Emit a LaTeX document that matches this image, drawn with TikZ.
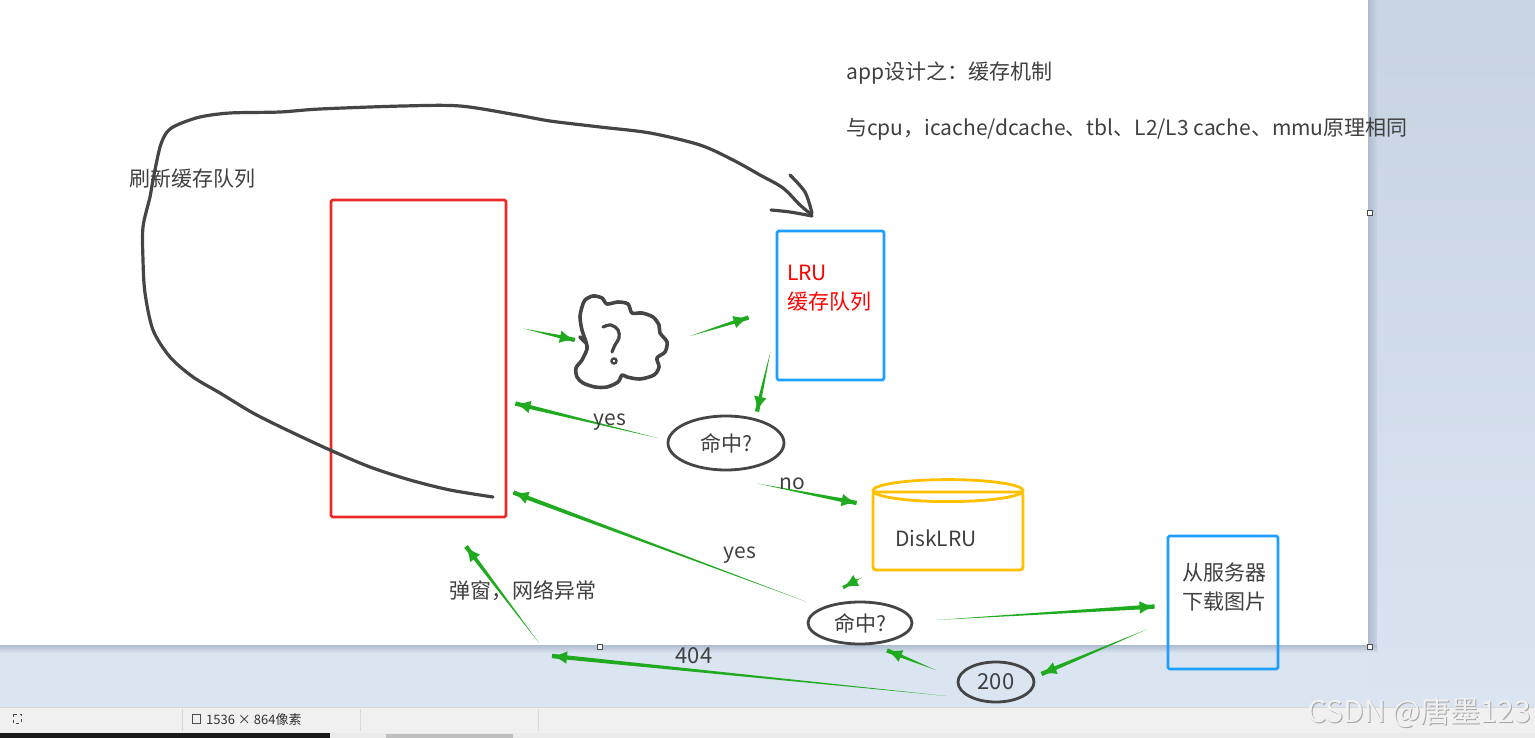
\documentclass[tikz,border=0pt]{standalone}
\usepackage{fontspec}
\setmainfont{Noto Sans CJK SC}
\usetikzlibrary{arrows.meta,calc,shapes.geometric,positioning}

\definecolor{flowgreen}{HTML}{1FAA1F}
\definecolor{cachered}{HTML}{EC2828}
\definecolor{lrublue}{HTML}{1E9FFF}
\definecolor{diskyellow}{HTML}{FFC000}
\definecolor{inkgray}{HTML}{454545}
\definecolor{textgray}{HTML}{404040}
\definecolor{paneblue}{HTML}{DBE5F1}
\definecolor{panetop}{HTML}{C8D3E3}
\definecolor{paneshadow}{HTML}{AEBCD0}
\definecolor{barface}{HTML}{F0F0F0}

\newcommand{\flowarrow}[3][2.2pt]{%
  \fill[flowgreen] (#2) -- ($(#3)!#1!90:(#2)$) -- ($(#3)!#1!-90:(#2)$) -- cycle;
  \draw[flowgreen,line width=3pt,-{Latex[length=15pt,width=13pt]}] ($(#3)!16pt!(#2)$) -- (#3);}

\begin{document}
\begin{tikzpicture}[x=1pt,y=-1pt,
  lbl/.style={text=textgray,font=\fontsize{21}{29}\selectfont,inner sep=0pt},
  ink/.style={draw=inkgray,line width=3.2pt,line cap=round,line join=round},
  box/.style={line width=2.8pt,inner sep=0pt,rounded corners=1.5pt},
  hitnode/.style={ellipse,draw=inkgray,line width=2.8pt,inner sep=0pt,text=textgray,font=\fontsize{21}{26}\selectfont},
  handle/.style={draw=black!70,fill=white,line width=0.6pt}]
\useasboundingbox (0,0) rectangle (1535,738);

% window around the canvas
\fill[paneblue] (0,0) rectangle (1535,707);
\shade[top color=panetop,bottom color=paneblue] (1368,0) rectangle (1535,707);
\shade[left color=paneshadow,right color=panetop] (1368,0) rectangle (1377,652);
\shade[top color=paneshadow,bottom color=paneblue] (0,645) rectangle (1377,653);
\fill[white] (0,0) rectangle (1368,645);
\fill[barface] (0,707) rectangle (1535,733);
\draw[black!15] (0,707.5) -- (1535,707.5);
\foreach \x in {182,360,538} \draw[black!15] (\x,709) -- (\x,731);
\fill[black!90] (0,733) rectangle (330,738);
\fill[black!8] (330,733) rectangle (1535,738);
\fill[black!25] (386,734) rectangle (513,738);
\draw[black!70,dashed,line width=0.5pt] (13,714) rectangle (21,723);
\draw[black!70,line width=0.6pt] (192,714) rectangle (200,723);
\node[anchor=west,text=black!80,font=\fontsize{13}{13}\selectfont,inner sep=0pt] (size) at (206,720) {1536 × 864像素};
\foreach \x/\y in {1370/213,1370/647,600/647}
  \draw[handle] (\x-2.5,\y-2.5) rectangle (\x+2.5,\y+2.5);

% texts
\node[lbl,anchor=west] (title) at (846,73) {app设计之：缓存机制};
\node[lbl,anchor=west] (note) at (846,129) {与cpu，icache/dcache、tbl、L2/L3 cache、mmu原理相同};
\node[lbl,anchor=west] (refresh) at (129,179) {刷新缓存队列};

% boxes
\node[box,draw=cachered,minimum width=175pt,minimum height=317pt] (cache) at (418.5,358.5) {};
\node[box,draw=lrublue,minimum width=107pt,minimum height=149pt] (lru) at (830.5,305.5) {};
\node[lbl,text=red,align=left,anchor=west] (lrutext) at (787,288) {LRU\\缓存队列};
\node[box,draw=lrublue,minimum width=110pt,minimum height=133pt] (server) at (1223,602.5) {};
\node[lbl,align=center] (servertext) at (1224,587) {从服务器\\下载图片};
\node[box,draw=diskyellow,rounded corners=3pt,minimum width=150pt,minimum height=78pt] (disk) at (948,531) {};
\draw[diskyellow,line width=2.8pt] (disk.north) ellipse (75pt and 11pt);
\node[lbl] (disktext) at (936,538) {DiskLRU};

\node[hitnode,minimum width=116pt,minimum height=54pt] (hit) at (726,443) {命中?};
\node[hitnode,minimum width=104pt,minimum height=42pt] (hitdisk) at (860,623) {命中?};
\node[hitnode,minimum width=76pt,minimum height=40pt,font=\fontsize{22}{26}\selectfont] (ok) at (996,682) {200};
\node[lbl] (popup) at (523,591) {弹窗，网络异常};

% cloud with question mark
\node[minimum width=90pt,minimum height=90pt] (cloud) at (620,342) {};
\draw[ink,line width=3.6pt] plot[smooth cycle,tension=0.5] coordinates {(585,300) (593,296) (602,298) (607,304)
  (618,302) (628,304) (632,313) (642,313) (653,317) (659,325) (660,333) (667,342) (665,352)
  (657,358) (659,367) (654,375) (640,379) (627,377) (622,375) (618,382) (607,387) (595,387)
  (583,383) (577,377) (576,368) (582,360) (587,349) (586,342) (582,330) (580,317) (582,307)};
\draw[ink,line width=3.6pt] (580,337) -- (586,343);
\draw[ink,line width=3.2pt] plot[smooth,tension=0.6] coordinates {(603,327) (611,325) (618,330) (619,338) (615,345) (612,352)};
\draw[ink,line width=2.4pt] (614,361) circle (2.6pt);

% refresh loop
\draw[ink] plot[smooth,tension=0.5] coordinates {(493,497) (450,490) (410,480)
  (370,467) (330,450) (287,430) (253,413) (220,393) (193,377) (170,357) (153,330) (145,293)
  (143,260) (143,227) (150,197) (153,180) (160,147) (167,132) (177,125) (200,117) (230,113)
  (280,112) (320,109) (403,106) (460,106) (517,115) (550,121) (600,127) (650,133) (700,145)
  (733,160) (760,175) (783,188) (800,205) (812,215)};
\draw[ink] plot[smooth] coordinates {(790,175) (805,192) (812,213)};
\draw[ink] plot[smooth] coordinates {(771,210) (790,212) (812,216)};

% flows
\coordinate (a1s) at ($(cache.east)+(16,-30)$);
\coordinate (a1e) at ($(cloud.west)+(0,-2)$);
\coordinate (a2s) at ($(cloud.east)+(25,-6)$);
\coordinate (a2e) at ($(lru.west)+(-27,12)$);
\coordinate (a3s) at ($(lru.south)+(-60,-30)$);
\coordinate (a3e) at ($(hit.north)+(31,-3)$);
\coordinate (a4s) at ($(hit.west)+(-9,-5)$);
\coordinate (a4e) at ($(cache.east)+(8,45)$);
\coordinate (a5s) at ($(hit.south)+(31,12)$);
\coordinate (a5e) at ($(disk.west)+(-15,-28)$);
\coordinate (a6s) at ($(hitdisk.north)+(-54,1)$);
\coordinate (a6e) at ($(cache.east)+(6,134)$);
\coordinate (a7s) at ($(disk.south)+(-86,6)$);
\coordinate (a7e) at ($(hitdisk.north)+(-17,-13)$);
\coordinate (a8s) at ($(hitdisk.east)+(23,-3)$);
\coordinate (a8e) at ($(server.west)+(-12,4)$);
\coordinate (a9s) at ($(server.west)+(-20,27)$);
\coordinate (a9e) at ($(ok.east)+(6,-8)$);
\coordinate (a10s) at ($(ok.west)+(-21,-12)$);
\coordinate (a10e) at ($(hitdisk.south)+(27,5)$);
\coordinate (a11s) at ($(ok.west)+(-10,14)$);
\coordinate (a11e) at ($(popup)+(29,65)$);
\coordinate (a12s) at ($(popup)+(16,52)$);
\coordinate (a12e) at ($(cache.south)+(47.5,28)$);
\flowarrow{a1s}{a1e}
\flowarrow{a2s}{a2e}
\flowarrow{a3s}{a3e}
\flowarrow{a4s}{a4e}
\flowarrow{a5s}{a5e}
\flowarrow{a6s}{a6e}
\flowarrow[1.8pt]{a7s}{a7e}
\flowarrow{a8s}{a8e}
\flowarrow{a9s}{a9e}
\flowarrow{a10s}{a10e}
\flowarrow{a11s}{a11e}
\flowarrow{a12s}{a12e}
\node[lbl] (yes1) at (610,422) {yes};
\node[lbl] (no) at (792,484) {no};
\node[lbl] (yes2) at (740,555) {yes};
\node[lbl,font=\fontsize{22}{26}\selectfont] (code404) at (694,656) {404};

% watermark
\node[text=black!35,font=\fontsize{30}{30}\selectfont,inner sep=0pt] (markshadow) at (1420,713) {CSDN @唐墨123};
\node[text=black!6,font=\fontsize{30}{30}\selectfont,inner sep=0pt] (mark) at (1419,712) {CSDN @唐墨123};
\end{tikzpicture}
\end{document}
